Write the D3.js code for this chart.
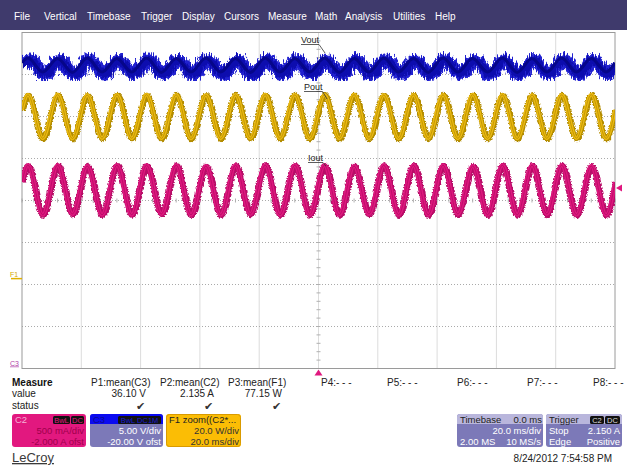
<!DOCTYPE html>
<html><head><meta charset="utf-8">
<script src="https://cdn.jsdelivr.net/npm/d3@7"></script>
<style>body{margin:0;background:#fff}svg{display:block;font-family:"Liberation Sans",Arial,sans-serif}</style>
</head><body><svg id="c" width="627" height="465"></svg>
<script>
// ---------------- data ----------------
const menuItems = ["File","Vertical","Timebase","Trigger","Display","Cursors","Measure","Math","Analysis","Utilities","Help"];
const menuX = [14,44,87,141,182,224,268,315,345,393,435];
const timeTicks = [-100,-80,-60,-40,-20,0,20,40,60,80,100];   // ms, 20 ms/div
const divTicks = [-4,-3,-2,-1,0,1,2,3,4];
// times (ms) of the read peaks / troughs of the 100 Hz ripple
const extremaTimes = [-100,-98,-93,-88,-83,-78,-73,-68,-63,-58,-53,-48,-43,-38,-33,-28,-23,-18,-13,-8,-3,
  2,7,12,17,22,27,32,37,42,47,52,57,62,67,72,77,82,87,92,97,100];
// C3 Vout (V)
const vout = [36.40,36.95,35.30,36.90,35.25,36.95,35.30,36.90,35.30,36.95,35.25,36.90,35.30,36.95,35.30,36.90,35.25,36.95,35.30,36.90,35.30,
  36.95,35.25,36.90,35.30,36.95,35.30,36.90,35.25,36.95,35.30,36.90,35.30,36.95,35.25,36.90,35.30,36.95,35.30,36.90,35.30,36.40];
// F1 Pout (W)
const pout = [80.4,87.5,66.8,87.6,66.7,87.4,66.9,87.5,66.8,87.6,66.8,87.5,66.7,87.4,66.8,87.5,66.9,87.6,66.8,87.5,66.7,
  87.5,66.8,87.6,66.8,87.4,66.7,87.5,66.9,87.5,66.8,87.6,66.8,87.5,66.7,87.4,66.8,87.5,66.9,87.6,66.8,80.4];
// C2 Iout (A)
const iout = [2.22,2.42,1.83,2.42,1.84,2.41,1.83,2.42,1.83,2.42,1.84,2.42,1.83,2.41,1.83,2.42,1.84,2.42,1.83,2.42,1.83,
  2.42,1.83,2.41,1.84,2.42,1.83,2.42,1.83,2.42,1.84,2.41,1.83,2.42,1.83,2.42,1.84,2.42,1.83,2.41,1.83,2.22];
const measureNames = ["P1:mean(C3)","P2:mean(C2)","P3:mean(F1)","P4:- - -","P5:- - -","P6:- - -","P7:- - -","P8:- - -"];
const measureValues = ["36.10 V","2.135 A","77.15 W","","","","",""];
const measureStatus = [true,true,true,false,false,false,false,false];
const dateText = "8/24/2012 7:54:58 PM";

// ---------------- layout ----------------
const svg = d3.select("#c");
const G = {x0:22, x1:615, y0:32.5, y1:368.5};
const x = d3.scaleLinear().domain([-100,100]).range([G.x0,G.x1]);
const yDiv = d3.scaleLinear().domain([-4,4]).range([G.y1,G.y0]);
const yC3 = d3.scaleLinear().domain([0,40]).range([G.y1,G.y0]);       // 5 V/div, -20 V ofst
const yC2 = d3.scaleLinear().domain([0,4]).range([G.y1,G.y0]);        // 500 mA/div, -2 A ofst
const f1Zero = -1.86; // div position of F1 reference
const yF1 = d3.scaleLinear().domain([(-4-f1Zero)*20,(4-f1Zero)*20]).range([G.y1,G.y0]); // 20 W/div

const defs = svg.append("defs");
defs.append("clipPath").attr("id","gclip").append("rect")
  .attr("x",G.x0).attr("y",G.y0).attr("width",G.x1-G.x0).attr("height",G.y1-G.y0);
function fuzz(id, freq, scale, seed){
  const f = defs.append("filter").attr("id",id).attr("x","-2%").attr("y","-60%").attr("width","104%").attr("height","220%");
  f.append("feTurbulence").attr("type","turbulence").attr("baseFrequency",freq).attr("numOctaves",2).attr("seed",seed).attr("result","n");
  f.append("feDisplacementMap").attr("in","SourceGraphic").attr("in2","n").attr("scale",scale)
    .attr("xChannelSelector","R").attr("yChannelSelector","G");
}
fuzz("fzB","0.9 0.08",9,3);
fuzz("fzY","0.9 0.4",2,5);
fuzz("fzP","0.9 0.4",2,7);

// menu bar
svg.append("rect").attr("x",0).attr("y",0).attr("width",627).attr("height",30).attr("fill","#3f3a6c");
svg.append("g").selectAll("text").data(menuItems).join("text")
  .attr("x",(d,i)=>menuX[i]).attr("y",20).attr("fill","#fff").attr("font-size",10).text(d=>d);

// grid
const grid = svg.append("g");
grid.selectAll(".vl").data(timeTicks.slice(1,-1)).join("line")
  .attr("x1",d=>x(d)).attr("x2",d=>x(d)).attr("y1",G.y0).attr("y2",G.y1)
  .attr("stroke","#b8b8b8").attr("stroke-dasharray","1,1");
grid.selectAll(".hl").data(divTicks.slice(1,-1)).join("line")
  .attr("y1",d=>yDiv(d)).attr("y2",d=>yDiv(d)).attr("x1",G.x0).attr("x2",G.x1)
  .attr("stroke","#aaaaaa").attr("stroke-dasharray","1,2");
// centre minor ticks
const minorT = d3.range(-100,100.1,4), minorV = d3.range(-4,4.01,0.2);
grid.selectAll(".mt").data(minorT).join("line")
  .attr("x1",d=>x(d)).attr("x2",d=>x(d)).attr("y1",yDiv(0)-2).attr("y2",yDiv(0)+2).attr("stroke","#b0b0b0");
grid.selectAll(".mv").data(minorV).join("line")
  .attr("y1",d=>yDiv(d)).attr("y2",d=>yDiv(d)).attr("x1",x(0)-2).attr("x2",x(0)+2).attr("stroke","#b0b0b0");
grid.append("rect").attr("x",G.x0).attr("y",G.y0).attr("width",G.x1-G.x0).attr("height",G.y1-G.y0)
  .attr("fill","none").attr("stroke","#9a9a9a");

// traces
const tr = svg.append("g").attr("clip-path","url(#gclip)");
function trace(vals, ys, layers){
  const line = d3.line().x((d,i)=>x(extremaTimes[i])).y(d=>ys(d)).curve(d3.curveMonotoneX);
  layers.forEach(l=>{
    const p = tr.append("path").attr("d",line(vals)).attr("fill","none")
      .attr("stroke",l.c).attr("stroke-width",l.w).attr("stroke-linejoin","round");
    if(l.f) p.attr("filter","url(#"+l.f+")");
    if(l.o) p.attr("opacity",l.o);
  });
}
trace(vout,yC3,[{c:"#2222d0",w:13,f:"fzB"},{c:"#0e0eae",w:8,f:"fzB"},{c:"#06068a",w:3}]);
trace(pout,yF1,[{c:"#b38c00",w:6,f:"fzY"},{c:"#ebba10",w:3.6},{c:"#a88000",w:1,o:0.6}]);
trace(iout,yC2,[{c:"#b80c68",w:6.5,f:"fzP"},{c:"#de177e",w:4},{c:"#a00858",w:1,o:0.5}]);

// trace labels
const labels = [
  {t:"Vout",x:301,y:43,lx:325,ly:53},
  {t:"Pout",x:304,y:90,lx:327,ly:99},
  {t:"Iout",x:308,y:161,lx:326,ly:166}];
labels.forEach(l=>{
  const g = svg.append("g");
  const tx = g.append("text").attr("x",l.x).attr("y",l.y).attr("font-size",9).attr("fill","#222").text(l.t);
  const w = tx.node().getComputedTextLength();
  g.append("line").attr("x1",l.x).attr("x2",l.x+w).attr("y1",l.y+1.5).attr("y2",l.y+1.5).attr("stroke","#333").attr("stroke-width",0.8);
  g.append("line").attr("x1",l.x+w).attr("y1",l.y+1.5).attr("x2",l.lx).attr("y2",l.ly).attr("stroke","#333").attr("stroke-width",0.8);
});

// markers
svg.append("text").attr("x",10).attr("y",yF1(0)-2).attr("font-size",7).attr("fill","#d4a800").text("F1");
svg.append("line").attr("x1",11).attr("x2",G.x0).attr("y1",yF1(0)).attr("y2",yF1(0)).attr("stroke","#e0b000").attr("stroke-width",1.5);
svg.append("text").attr("x",10).attr("y",yC3(0)-3).attr("font-size",7).attr("fill","#b040a8").attr("text-decoration","underline").text("C3");
svg.append("path").attr("d",`M${G.x1+1},${yC2(2.15)}l6,-3.5v7z`).attr("fill","#e0187f");
svg.append("path").attr("d",`M${x(0)},${G.y1+1}l4,6h-8z`).attr("fill","#e0187f");

// measure table
const fs = 10;
svg.append("text").attr("x",12).attr("y",386).attr("font-size",fs).attr("font-weight","bold").attr("fill","#111").text("Measure");
svg.append("text").attr("x",12).attr("y",397).attr("font-size",fs).attr("fill","#222").text("value");
svg.append("text").attr("x",12).attr("y",409).attr("font-size",fs).attr("fill","#222").text("status");
const colX = [91,160,228,321,387,457,527,593];
const colR = [146,214,282];
measureNames.forEach((m,i)=>{
  svg.append("text").attr("x",colX[i]).attr("y",386).attr("font-size",fs).attr("fill","#222").text(m);
  if(measureValues[i]) svg.append("text").attr("x",colR[i]).attr("y",397).attr("text-anchor","end").attr("font-size",fs).attr("fill","#222").text(measureValues[i]);
  if(measureStatus[i]) svg.append("text").attr("x",colR[i]-6).attr("y",410).attr("text-anchor","middle").attr("font-size",11).attr("fill","#333").text("✔");
});

// channel boxes
function box(x0,w,fill){
  return svg.append("rect").attr("x",x0).attr("y",414).attr("width",w).attr("height",33).attr("rx",3).attr("fill",fill);
}
function txt(x0,y0,t,c,anchor,sz){
  return svg.append("text").attr("x",x0).attr("y",y0).attr("font-size",sz||9.5).attr("fill",c).attr("text-anchor",anchor||"start").text(t);
}
function badge(x0,w,t,c){
  svg.append("rect").attr("x",x0).attr("y",416).attr("width",w).attr("height",8).attr("rx",1.5).attr("fill","#111");
  txt(x0+w/2,423,t,c,"middle",7.5);
}
// C2 box
box(12,74,"#e2187f");
txt(15,423,"C2","#f5b0d4");
badge(53,17,"BwL","#e2187f"); badge(71,13,"DC","#e2187f");
txt(84,434,"500 mA/div","#a0004c","end");
txt(84,445,"-2.000 A ofst","#a0004c","end");
// C3 box
box(90,73,"#7c79b8");
svg.append("path").attr("d","M90,424V417a3,3 0 0 1 3,-3H160a3,3 0 0 1 3,3V424z").attr("fill","#0a0af0");
txt(93,423,"C3","#0a0a90");
badge(118,43,"BwL DC1M","#1a1ad0");
txt(161,434,"5.00 V/div","#fff","end");
txt(161,445,"-20.00 V ofst","#fff","end");
// F1 box
box(166,75,"#fbbd05");
svg.append("rect").attr("x",166.5).attr("y",414.5).attr("width",74).attr("height",32).attr("rx",3).attr("fill","none").attr("stroke","#d99a00");
txt(169,423,"F1  zoom((C2*...","#222");
txt(239,434,"20.0 W/div","#333","end");
txt(239,445,"20.0 ms/div","#333","end");

// LeCroy
txt(12,462,"LeCroy","#3a3a3a","start",13).attr("text-decoration","underline");

// Timebase box
box(457,86,"#7c79b8");
svg.append("path").attr("d","M457,424V417a3,3 0 0 1 3,-3H540a3,3 0 0 1 3,3V424z").attr("fill","#b9b6dc");
txt(460,423,"Timebase","#222"); txt(542,423,"0.0 ms","#222","end");
txt(541,434,"20.0 ms/div","#fff","end");
txt(460,445,"2.00 MS","#fff"); txt(541,445,"10 MS/s","#fff","end");
// Trigger box
box(546,76,"#7c79b8");
svg.append("path").attr("d","M546,424V417a3,3 0 0 1 3,-3H619a3,3 0 0 1 3,3V424z").attr("fill","#b9b6dc");
txt(549,423,"Trigger","#222");
badge(590,14,"C2","#ddd"); badge(605,15,"DC","#ddd");
txt(549,434,"Stop","#fff"); txt(620,434,"2.150 A","#fff","end");
txt(549,445,"Edge","#fff"); txt(620,445,"Positive","#fff","end");

txt(612,462,dateText,"#222","end",10);
</script></body></html>
